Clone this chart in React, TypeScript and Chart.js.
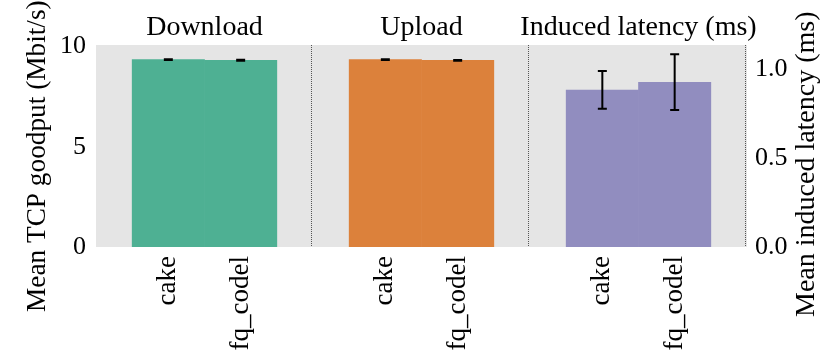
import React, { useEffect, useRef } from 'react';
import { Chart, registerables } from 'chart.js';

Chart.register(...registerables);

const categories = ['cake', 'fq_codel'];
const panelTitles = ['Download', 'Upload', 'Induced latency (ms)'];
const downloadMean = [9.35, 9.32];
const downloadErr = [0.02, 0.02];
const uploadMean = [9.35, 9.31];
const uploadErr = [0.02, 0.02];
const latencyMean = [0.882, 0.925];
const latencyLow = [0.777, 0.77];
const latencyHigh = [0.989, 1.083];
const leftTicks = [0, 5, 10];
const rightTicks = [0.0, 0.5, 1.0];
const leftMax = 10.08;
const rightMax = 1.135;
const yLeftTitle = 'Mean TCP goodput (Mbit/s)';
const yRightTitle = 'Mean induced latency (ms)';
const panelColors = ['rgb(78,176,147)', 'rgb(220,129,59)', 'rgb(145,141,191)'];

const FONT = "'Liberation Serif', 'DejaVu Serif', serif";
const FS = 26;
const FS_TITLE = 28;
const FS_LEFT = 27.3;
const FS_CAT = 27;

const pos = (panel: number, i: number) => panel * 3 + i + 1;

export default function App() {
  const ref = useRef<HTMLCanvasElement | null>(null);

  useEffect(() => {
    if (!ref.current) return;
    Chart.defaults.font.family = FONT;
    Chart.defaults.font.size = FS;
    Chart.defaults.color = '#000';

    const tpData = [
      ...downloadMean.map((v, i) => ({ x: pos(0, i), y: v })),
      ...uploadMean.map((v, i) => ({ x: pos(1, i), y: v })),
    ];
    const tpLow = [
      ...downloadMean.map((v, i) => v - downloadErr[i]),
      ...uploadMean.map((v, i) => v - uploadErr[i]),
    ];
    const tpHigh = [
      ...downloadMean.map((v, i) => v + downloadErr[i]),
      ...uploadMean.map((v, i) => v + uploadErr[i]),
    ];
    const tpColors = [...downloadMean.map(() => panelColors[0]), ...uploadMean.map(() => panelColors[1])];
    const latData = latencyMean.map((v, i) => ({ x: pos(2, i), y: v }));

    const errLows = [tpLow, latencyLow];
    const errHighs = [tpHigh, latencyHigh];

    const plugin = {
      id: 'decor',
      beforeDraw(chart: any) {
        const { ctx, chartArea } = chart;
        ctx.save();
        ctx.fillStyle = '#e5e5e5';
        ctx.fillRect(chartArea.left, chartArea.top, chartArea.right - chartArea.left, chartArea.bottom - chartArea.top);
        ctx.restore();
      },
      afterDatasetsDraw(chart: any) {
        const { ctx, chartArea } = chart;
        const xs = chart.scales.x;
        ctx.save();
        ctx.strokeStyle = '#555';
        ctx.lineWidth = 1;
        ctx.setLineDash([1, 1]);
        [3, 6, 9].forEach((v) => {
          const px = Math.round(xs.getPixelForValue(v)) - 1.5;
          ctx.beginPath();
          ctx.moveTo(px, chartArea.top);
          ctx.lineTo(px, chartArea.bottom);
          ctx.stroke();
        });
        ctx.setLineDash([]);
        ctx.strokeStyle = '#000';
        ctx.lineWidth = 2;
        [0, 1].forEach((d) => {
          const meta = chart.getDatasetMeta(d);
          const ys = chart.scales[meta.yAxisID];
          meta.data.forEach((el: any, j: number) => {
            const x = el.x;
            const yl = ys.getPixelForValue(errLows[d][j]);
            const yh = ys.getPixelForValue(errHighs[d][j]);
            const cw = 4.5;
            ctx.beginPath();
            ctx.moveTo(x, yl);
            ctx.lineTo(x, yh);
            ctx.moveTo(x - cw, yl);
            ctx.lineTo(x + cw, yl);
            ctx.moveTo(x - cw, yh);
            ctx.lineTo(x + cw, yh);
            ctx.stroke();
          });
        });
        ctx.restore();
      },
      afterDraw(chart: any) {
        const { ctx } = chart;
        const drawTitle = (text: string, x: number, y: number, size: number) => {
          ctx.save();
          ctx.font = `${size}px ${FONT}`;
          ctx.fillStyle = '#000';
          ctx.textBaseline = 'middle';
          ctx.textAlign = 'left';
          ctx.translate(x, y);
          ctx.rotate(-Math.PI / 2);
          ctx.fillText(text, 0, 0);
          ctx.restore();
        };
        drawTitle(yLeftTitle, 38, 312, FS_LEFT);
        drawTitle(yRightTitle, 807, 317, FS_TITLE);
      },
    };

    const chart = new Chart(ref.current, {
      type: 'bar',
      data: {
        datasets: [
          {
            data: tpData as any,
            backgroundColor: tpColors,
            yAxisID: 'y',
            xAxisID: 'x',
            barPercentage: 1,
            categoryPercentage: 1,
            grouped: false,
            borderWidth: 0,
          },
          {
            data: latData as any,
            backgroundColor: latData.map(() => panelColors[2]),
            yAxisID: 'y1',
            xAxisID: 'x',
            barPercentage: 1,
            categoryPercentage: 1,
            grouped: false,
            borderWidth: 0,
          },
        ],
      },
      options: {
        responsive: false,
        animation: false,
        devicePixelRatio: 1,
        layout: { padding: 0 },
        plugins: { legend: { display: false }, tooltip: { enabled: false }, title: { display: false } },
        scales: {
          x: {
            type: 'linear',
            position: 'bottom',
            min: 0,
            max: 9,
            offset: false,
            grid: { display: false, drawTicks: false },
            border: { display: false },
            afterBuildTicks: (s: any) => {
              s.ticks = [0, 1, 2].flatMap((p) => categories.map((_, i) => ({ value: pos(p, i) })));
            },
            afterFit: (s: any) => {
              s.height = 104;
            },
            ticks: {
              autoSkip: false,
              minRotation: 90,
              maxRotation: 90,
              padding: 9,
              font: { size: FS_CAT },
              callback: (v: any) => categories[(Math.round(Number(v)) - 1) % 3],
            },
          },
          x2: {
            type: 'linear',
            position: 'top',
            min: 0,
            max: 9,
            offset: false,
            grid: { display: false, drawTicks: false },
            border: { display: false },
            afterBuildTicks: (s: any) => {
              s.ticks = panelTitles.map((_, p) => ({ value: p * 3 + 1.5 }));
            },
            afterFit: (s: any) => {
              s.height = 45;
            },
            ticks: {
              autoSkip: false,
              maxRotation: 0,
              padding: 1,
              font: { size: FS_TITLE },
              callback: (v: any) => panelTitles[Math.floor(Number(v) / 3)],
            },
          },
          y: {
            type: 'linear',
            position: 'left',
            min: 0,
            max: leftMax,
            grid: { display: false, drawTicks: false },
            border: { display: false },
            afterBuildTicks: (s: any) => {
              s.ticks = leftTicks.map((v) => ({ value: v }));
            },
            afterFit: (s: any) => {
              s.width = 96;
            },
            ticks: { padding: 10, callback: (v: any) => String(v) },
          },
          y1: {
            type: 'linear',
            position: 'right',
            min: 0,
            max: rightMax,
            grid: { display: false, drawTicks: false },
            border: { display: false },
            afterBuildTicks: (s: any) => {
              s.ticks = rightTicks.map((v) => ({ value: v }));
            },
            afterFit: (s: any) => {
              s.width = 83;
            },
            ticks: { padding: 8, callback: (v: any) => Number(v).toFixed(1) },
          },
        },
      },
      plugins: [plugin],
    });
    return () => chart.destroy();
  }, []);

  return (
    <div style={{ position: 'fixed', left: 0, top: 0, width: 830, height: 351, background: '#fff' }}>
      <canvas ref={ref} width={830} height={351} style={{ display: 'block' }} />
    </div>
  );
}
